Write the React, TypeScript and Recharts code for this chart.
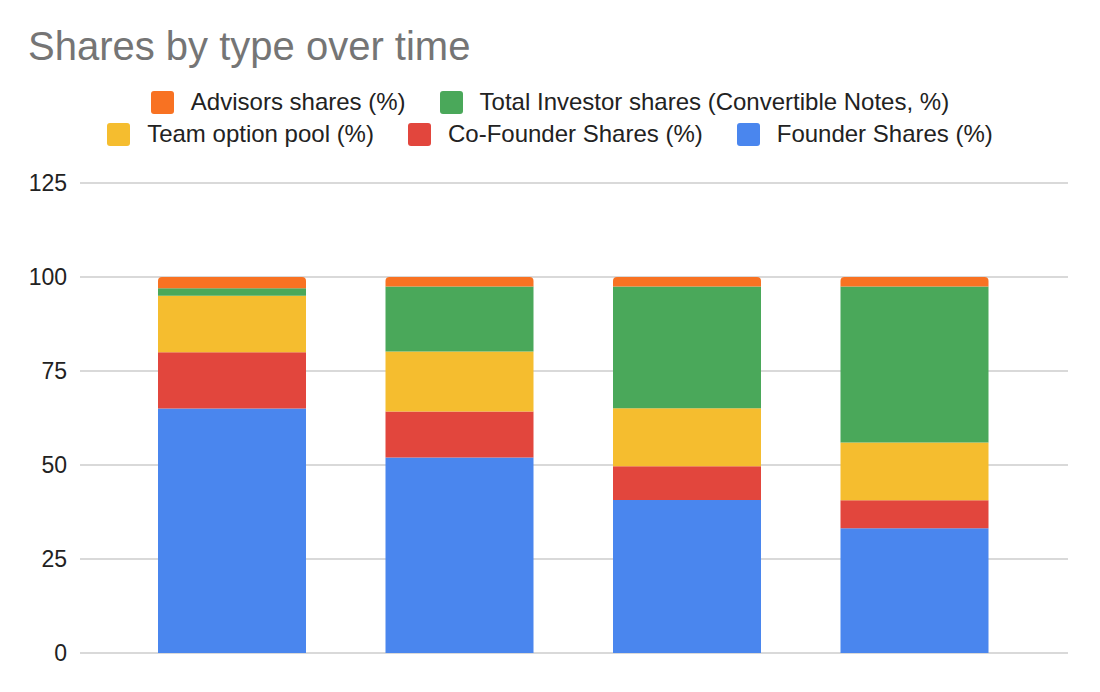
import { BarChart, Bar, XAxis, YAxis, CartesianGrid } from 'recharts';

const rounds = ['Round 1', 'Round 2', 'Round 3', 'Round 4'];
const founderShares = [65, 52, 40.7, 33.2];
const coFounderShares = [15, 12.2, 9, 7.4];
const teamOptionPool = [15, 16, 15.4, 15.4];
const investorShares = [2, 17.3, 32.4, 41.5];
const advisorsShares = [3, 2.5, 2.5, 2.5];
const yTicks = [0, 25, 50, 75, 100, 125];

// stack order, bottom to top
const series = [
  { key: 'founder', name: 'Founder Shares (%)', color: '#4a86ee', values: founderShares },
  { key: 'coFounder', name: 'Co-Founder Shares (%)', color: '#e2463d', values: coFounderShares },
  { key: 'team', name: 'Team option pool (%)', color: '#f5bd2f', values: teamOptionPool },
  { key: 'investor', name: 'Total Investor shares (Convertible Notes, %)', color: '#4aa85a', values: investorShares },
  { key: 'advisors', name: 'Advisors shares (%)', color: '#f87222', values: advisorsShares },
];

const legendRows = [
  ['advisors', 'investor'],
  ['team', 'coFounder', 'founder'],
];

const data = rounds.map((round, i) => {
  const row: Record<string, string | number> = { round };
  series.forEach(s => { row[s.key] = s.values[i]; });
  return row;
});

const font = 'Arial, "Liberation Sans", sans-serif';

const ChartLegend = () => (
  <div style={{ position: 'absolute', top: 86, left: 0, width: 1100, fontFamily: font, fontSize: 24, color: '#222' }}>
    {legendRows.map((row, r) => (
      <div key={r} style={{ display: 'flex', justifyContent: 'center', gap: 34, height: 32, alignItems: 'center' }}>
        {row.map(k => {
          const s = series.find(x => x.key === k)!;
          return (
            <div key={k} style={{ display: 'flex', alignItems: 'center' }}>
              <span style={{ width: 23, height: 23, borderRadius: 3, background: s.color, marginRight: 17 }} />
              <span>{s.name}</span>
            </div>
          );
        })}
      </div>
    ))}
  </div>
);

export default function App() {
  return (
    <div style={{ position: 'absolute', left: 0, top: 0, width: 1100, height: 692, background: '#fff' }}>
      <div style={{ position: 'absolute', left: 28, top: 26, fontFamily: font, fontSize: 40, lineHeight: 1, color: '#757575' }}>
        Shares by type over time
      </div>
      <ChartLegend />
      <BarChart width={1100} height={692} data={data} margin={{ top: 183, right: 32, bottom: 39, left: 0 }}>
        <CartesianGrid vertical={false} stroke="#cccccc" strokeWidth={1.5} />
        <XAxis dataKey="round" tick={false} tickLine={false} height={0} axisLine={{ stroke: '#333', strokeWidth: 2 }} padding={{ left: 38, right: 40 }} />
        <YAxis
          width={80}
          domain={[0, 125]}
          ticks={yTicks}
          axisLine={false}
          tickLine={false}
          tickSize={0}
          tickMargin={13}
          tick={{ fill: '#222', fontSize: 23, fontFamily: font }}
        />
        {series.map(s => (
          <Bar
            key={s.key}
            dataKey={s.key}
            name={s.name}
            stackId="shares"
            fill={s.color}
            barSize={148}
            radius={s.key === 'advisors' ? [4, 4, 0, 0] : 0}
            isAnimationActive={false}
          />
        ))}
      </BarChart>
    </div>
  );
}
